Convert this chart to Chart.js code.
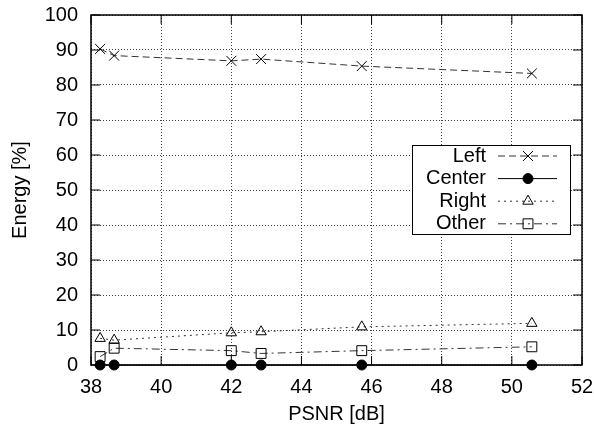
<!DOCTYPE html>
<html>
<head>
<meta charset="utf-8">
<script src="https://cdn.jsdelivr.net/npm/chart.js@4.4.1/dist/chart.umd.min.js"></script>
<style>
  body { margin: 0; background: #fff; }
  #wrap { width: 594px; height: 427px; }
</style>
</head>
<body>
<div id="wrap"><canvas id="energy" width="594" height="427"></canvas></div>
<script>
// values
const psnr   = [38.26, 38.66, 42.0, 42.85, 45.72, 50.57];
const left   = [90.3, 88.4, 86.9, 87.4, 85.4, 83.3];
const center = [0, 0, 0, 0, 0, 0];
const right  = [7.6, 7.1, 9.2, 9.5, 10.9, 11.9];
const other  = [2.4, 4.8, 4.1, 3.3, 4.1, 5.2];
const seriesNames = ['Left', 'Center', 'Right', 'Other'];
const xTicks = [38, 40, 42, 44, 46, 48, 50, 52];
const yTicks = [0, 10, 20, 30, 40, 50, 60, 70, 80, 90, 100];

const FONT = "'Liberation Sans', Arial, Helvetica, sans-serif";
Chart.defaults.font.family = FONT;
Chart.defaults.font.size = 20;
Chart.defaults.color = '#000';

function pts(ys) {
  return psnr.map((x, i) => ({ x: x, y: ys[i] }));
}

// gnuplot-like frame: box plus inward ticks on all sides
const framePlugin = {
  id: 'frame',
  afterDatasetsDraw(chart) {
    const c = chart.ctx, a = chart.chartArea;
    const xs = chart.scales.x, ys = chart.scales.y;
    const tl = 9;
    c.save();
    c.strokeStyle = '#000';
    c.lineWidth = 1;
    c.beginPath();
    xTicks.forEach(v => {
      const p = xs.getPixelForValue(v);
      c.moveTo(p, a.bottom); c.lineTo(p, a.bottom - tl);
      c.moveTo(p, a.top); c.lineTo(p, a.top + tl);
    });
    yTicks.forEach(v => {
      const p = ys.getPixelForValue(v);
      c.moveTo(a.left, p); c.lineTo(a.left + tl, p);
      c.moveTo(a.right, p); c.lineTo(a.right - tl, p);
    });
    c.stroke();
    c.lineWidth = 1.5;
    c.strokeRect(a.left, a.top, a.right - a.left, a.bottom - a.top);
    c.restore();
  }
};

// legend box drawn like gnuplot's key
const keyPlugin = {
  id: 'key',
  afterDraw(chart) {
    const c = chart.ctx;
    const bx = 412, by = 145, bw = 158, bh = 89;
    c.save();
    c.fillStyle = '#fff';
    c.fillRect(bx, by, bw, bh);
    c.strokeStyle = '#000';
    c.lineWidth = 1;
    c.strokeRect(bx + 0.5, by + 0.5, bw, bh);
    chart.data.datasets.forEach((ds, i) => {
      const y = by + 11 + i * 22.6;
      c.font = '20px ' + FONT;
      c.fillStyle = '#000';
      c.textAlign = 'right';
      c.textBaseline = 'middle';
      c.fillText(ds.label, 486, y);
      c.beginPath();
      c.setLineDash(ds.borderDash || []);
      c.strokeStyle = ds.borderColor;
      c.lineWidth = 1;
      c.moveTo(498, y); c.lineTo(557, y);
      c.stroke();
      c.setLineDash([]);
      c.strokeStyle = ds.pointBorderColor;
      c.fillStyle = ds.pointBackgroundColor;
      Chart.helpers.drawPoint(c, {
        pointStyle: ds.pointStyle, radius: ds.pointRadius,
        borderWidth: 1, rotation: 0
      }, 528, y);
    });
    c.restore();
  }
};

new Chart(document.getElementById('energy'), {
  type: 'line',
  data: {
    datasets: [{
      label: seriesNames[0],
      data: pts(left),
      borderColor: '#333', borderWidth: 1, borderDash: [7, 4],
      pointStyle: 'crossRot', pointRadius: 7,
      pointBorderColor: '#000', pointBackgroundColor: 'rgba(0,0,0,0)',
      pointBorderWidth: 1, clip: false
    }, {
      label: seriesNames[1],
      data: pts(center),
      borderColor: '#000', borderWidth: 1,
      pointStyle: 'circle', pointRadius: 5,
      pointBorderColor: '#000', pointBackgroundColor: '#000',
      pointBorderWidth: 1, clip: false
    }, {
      label: seriesNames[2],
      data: pts(right),
      borderColor: '#333', borderWidth: 1, borderDash: [2, 4],
      pointStyle: 'triangle', pointRadius: 6,
      pointBorderColor: '#000', pointBackgroundColor: 'rgba(0,0,0,0)',
      pointBorderWidth: 1, clip: false
    }, {
      label: seriesNames[3],
      data: pts(other),
      borderColor: '#333', borderWidth: 1, borderDash: [8, 4, 2, 4],
      pointStyle: 'rect', pointRadius: 7,
      pointBorderColor: '#000', pointBackgroundColor: 'rgba(0,0,0,0)',
      pointBorderWidth: 1, clip: false
    }]
  },
  options: {
    responsive: false,
    animation: false,
    layout: { padding: { top: 15, right: 12, left: 0, bottom: 0 } },
    plugins: { legend: { display: false }, tooltip: { enabled: false } },
    elements: { line: { tension: 0 } },
    scales: {
      x: {
        type: 'linear', min: 38, max: 52,
        afterBuildTicks: s => { s.ticks = xTicks.map(v => ({ value: v })); },
        afterFit: s => { s.height = 62; s.paddingLeft = 0; s.paddingRight = 0; },
        grid: { color: 'rgba(0,0,0,0.75)', lineWidth: 1, drawTicks: false },
        border: { display: false, dash: [1, 2] },
        ticks: { padding: 10 },
        title: { display: true, text: 'PSNR [dB]', padding: { top: 0, bottom: 1 } }
      },
      y: {
        min: 0, max: 100,
        afterBuildTicks: s => { s.ticks = yTicks.map(v => ({ value: v })); },
        afterFit: s => { s.width = 91; s.paddingTop = 0; s.paddingBottom = 0; },
        grid: { color: 'rgba(0,0,0,0.75)', lineWidth: 1, drawTicks: false },
        border: { display: false, dash: [1, 2] },
        ticks: { padding: 13 },
        title: { display: true, text: 'Energy [%]', padding: { top: 8, bottom: 0 } }
      }
    }
  },
  plugins: [framePlugin, keyPlugin]
});
</script>
</body>
</html>
